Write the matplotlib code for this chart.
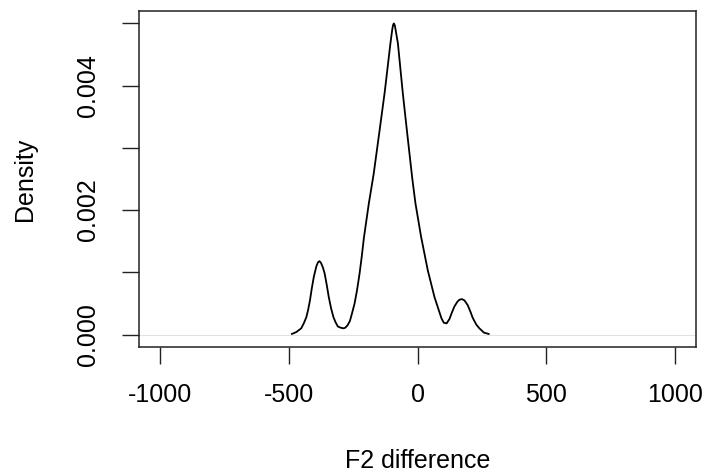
"""
Density plot of F2 difference (R-style base graphics look)
"""

import matplotlib
matplotlib.use("Agg")
import matplotlib.pyplot as plt

# Density curve
f2_diff = [-487, -470, -451, -441, -431, -424, -417, -410, -402, -392,
           -386, -380, -374, -367, -360, -352, -344, -335, -326, -318,
           -309, -298, -287, -280, -271, -262, -254, -244, -235, -225,
           -216, -208, -189, -170, -149, -127, -105, -98, -95, -92,
           -88, -85, -76, -57, -39, -20, -8, 14, 40, 66,
           85, 93, 102, 113, 124, 133, 143, 155, 163, 172,
           182, 195, 205, 214, 228, 240, 258, 276]
density = [0.00001, 0.00004, 0.00010, 0.00018, 0.00028, 0.00040, 0.00055, 0.00074, 0.00093, 0.00110,
           0.00116, 0.00118, 0.00115, 0.00108, 0.00098, 0.00080, 0.00060, 0.00042, 0.00028, 0.00020,
           0.00013, 0.00011, 0.00010, 0.00011, 0.00015, 0.00022, 0.00034, 0.00050, 0.00070, 0.00097,
           0.00126, 0.00155, 0.00210, 0.00258, 0.00322, 0.00390, 0.00468, 0.00490, 0.00497, 0.00500,
           0.00497, 0.00490, 0.00468, 0.00388, 0.00320, 0.00250, 0.00211, 0.00157, 0.00103, 0.00060,
           0.00036, 0.00026, 0.00019, 0.00018, 0.00025, 0.00035, 0.00045, 0.00053, 0.00056, 0.00057,
           0.00055, 0.00047, 0.00037, 0.00027, 0.00016, 0.00010, 0.00003, 0.00001]

x_ticks = [-1000, -500, 0, 500, 1000]
x_labels = ["-1000", "-500", "0", "500", "1000"]
y_ticks = [0.000, 0.001, 0.002, 0.003, 0.004, 0.005]
y_labels = ["0.000", "", "0.002", "", "0.004", ""]

plt.rcParams["font.family"] = ["Liberation Sans", "DejaVu Sans"]

fig = plt.figure(figsize=(7.09, 4.76), dpi=100)
ax = fig.add_axes([139 / 709, 1 - 347 / 476, (696 - 139) / 709, (347 - 11) / 476])

# zero line like R's plot.density
ax.axhline(0, color="#e2e2e2", linewidth=0.8, zorder=1)
ax.plot(f2_diff, density, color="black", linewidth=1.3, zorder=2,
        solid_joinstyle="round")

ax.set_xlim(-1080, 1080)
ax.set_ylim(-0.0002, 0.0052)

ax.set_xticks(x_ticks)
ax.set_xticklabels(x_labels)
ax.set_yticks(y_ticks)
ax.set_yticklabels(y_labels, rotation=90, va="center")

ax.tick_params(axis="both", direction="out", length=12, width=1.0,
               labelsize=18, color="#222222")
ax.tick_params(axis="x", pad=14)
ax.tick_params(axis="y", pad=16)

for sp in ax.spines.values():
    sp.set_linewidth(1.1)
    sp.set_color("#222222")

ax.set_xlabel("F2 difference", fontsize=18, labelpad=30)
ax.set_ylabel("Density", fontsize=18, labelpad=28)

fig.savefig("out.png", dpi=100)
